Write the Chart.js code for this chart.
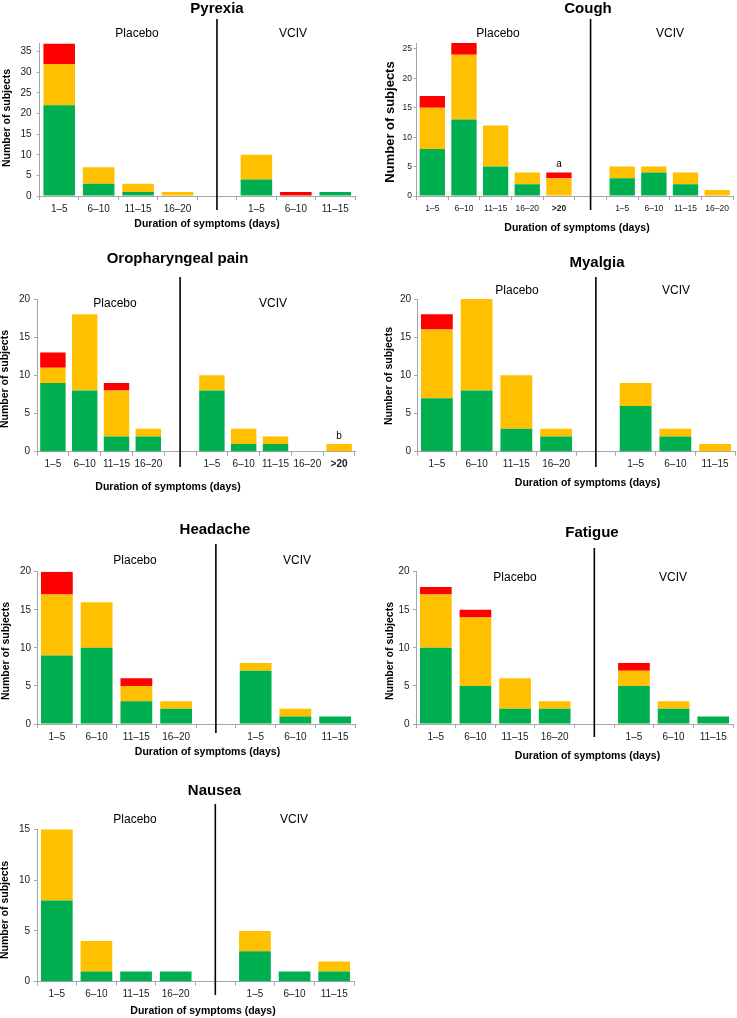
<!DOCTYPE html>
<html>
<head>
<meta charset="utf-8">
<script src="https://cdn.jsdelivr.net/npm/chart.js@4.4.1/dist/chart.umd.min.js"></script>
<style>
  body { margin: 0; background: #fff; }
  #page { position: relative; width: 737px; height: 1018px; overflow: hidden; }
  #page canvas { position: absolute; }
</style>
</head>
<body>
<div id="page"></div>
<script>
// ---- data (number of subjects per duration band; '' = gap between Placebo and VCIV) ----
const pyrexiaLabels = ['1–5', '6–10', '11–15', '16–20', '', '1–5', '6–10', '11–15'];
const pyrexiaMild = [22, 3, 1, 0, null, 4, 0, 1];
const pyrexiaModerate = [10, 4, 2, 1, null, 6, 0, 0];
const pyrexiaSevere = [5, 0, 0, 0, null, 0, 1, 0];

const coughLabels = ['1–5', '6–10', '11–15', '16–20', '>20', '', '1–5', '6–10', '11–15', '16–20'];
const coughMild = [8, 13, 5, 2, 0, null, 3, 4, 2, 0];
const coughModerate = [7, 11, 7, 2, 3, null, 2, 1, 2, 1];
const coughSevere = [2, 2, 0, 0, 1, null, 0, 0, 0, 0];

const oroLabels = ['1–5', '6–10', '11–15', '16–20', '', '1–5', '6–10', '11–15', '16–20', '>20'];
const oroMild = [9, 8, 2, 2, null, 8, 1, 1, 0, 0];
const oroModerate = [2, 10, 6, 1, null, 2, 2, 1, 0, 1];
const oroSevere = [2, 0, 1, 0, null, 0, 0, 0, 0, 0];

const myalgiaLabels = ['1–5', '6–10', '11–15', '16–20', '', '1–5', '6–10', '11–15'];
const myalgiaMild = [7, 8, 3, 2, null, 6, 2, 0];
const myalgiaModerate = [9, 12, 7, 1, null, 3, 1, 1];
const myalgiaSevere = [2, 0, 0, 0, null, 0, 0, 0];

const headacheLabels = ['1–5', '6–10', '11–15', '16–20', '', '1–5', '6–10', '11–15'];
const headacheMild = [9, 10, 3, 2, null, 7, 1, 1];
const headacheModerate = [8, 6, 2, 1, null, 1, 1, 0];
const headacheSevere = [3, 0, 1, 0, null, 0, 0, 0];

const fatigueLabels = ['1–5', '6–10', '11–15', '16–20', '', '1–5', '6–10', '11–15'];
const fatigueMild = [10, 5, 2, 2, null, 5, 2, 1];
const fatigueModerate = [7, 9, 4, 1, null, 2, 1, 0];
const fatigueSevere = [1, 1, 0, 0, null, 1, 0, 0];

const nauseaLabels = ['1–5', '6–10', '11–15', '16–20', '', '1–5', '6–10', '11–15'];
const nauseaMild = [8, 1, 1, 1, null, 3, 1, 1];
const nauseaModerate = [7, 3, 0, 0, null, 2, 0, 1];
const nauseaSevere = [0, 0, 0, 0, null, 0, 0, 0];

const GREEN = '#00B050', YELLOW = '#FFC000', RED = '#FF0000';
const AXIS = '#a6a6a6';
const FONT = '"Liberation Sans", Arial, sans-serif';
Chart.defaults.font.family = FONT;
Chart.defaults.color = '#1a1a1a';

const Y_W = 30, X_H = 20;

// layout in page pixels
const panels = [
  { title: 'Pyrexia', labels: pyrexiaLabels, mild: pyrexiaMild, mod: pyrexiaModerate, sev: pyrexiaSevere,
    box: [0, 0, 368, 235], plot: [39.5, 355, 43.5, 196], yMax: 37,
    titleAt: [217, 9], placebo: [137, 34], vciv: [293, 34], div: [19, 210],
    xTitle: [207, 224], yTitle: [7, 118], yTitleSize: 10.5, tickSize: 10, yPad: 5 },
  { title: 'Cough', labels: coughLabels, mild: coughMild, mod: coughModerate, sev: coughSevere,
    box: [368, 0, 369, 235], plot: [416.5, 733, 43.1, 196], yMax: 26,
    titleAt: [588, 9], placebo: [498, 34], vciv: [670, 34], div: [19, 210],
    xTitle: [577, 228], yTitle: [390.5, 122], yTitleSize: 13, tickSize: 8.5, yPad: 1.5,
    note: { index: 4, text: 'a' } },
  { title: 'Oropharyngeal pain', labels: oroLabels, mild: oroMild, mod: oroModerate, sev: oroSevere,
    box: [0, 235, 368, 265], plot: [37, 355, 299, 451.7], yMax: 20,
    titleAt: [177.5, 259], placebo: [115, 304], vciv: [273, 304], div: [277, 467],
    xTitle: [168, 487], yTitle: [5.5, 379], yTitleSize: 10.5, tickSize: 10, yPad: 4,
    note: { index: 9, text: 'b' } },
  { title: 'Myalgia', labels: myalgiaLabels, mild: myalgiaMild, mod: myalgiaModerate, sev: myalgiaSevere,
    box: [368, 235, 369, 265], plot: [417, 735, 299, 451.7], yMax: 20,
    titleAt: [597, 263], placebo: [517, 291], vciv: [676, 291], div: [277, 467],
    xTitle: [587.5, 483], yTitle: [389, 376], yTitleSize: 10.5, tickSize: 10, yPad: 3 },
  { title: 'Headache', labels: headacheLabels, mild: headacheMild, mod: headacheModerate, sev: headacheSevere,
    box: [0, 500, 368, 265], plot: [37, 355, 571.7, 724], yMax: 20,
    titleAt: [215, 530], placebo: [135, 561], vciv: [297, 561], div: [544, 733],
    xTitle: [207.5, 752], yTitle: [6, 651], yTitleSize: 10.5, tickSize: 10, yPad: 3 },
  { title: 'Fatigue', labels: fatigueLabels, mild: fatigueMild, mod: fatigueModerate, sev: fatigueSevere,
    box: [368, 500, 369, 265], plot: [416, 733, 571.7, 724], yMax: 20,
    titleAt: [592, 533], placebo: [515, 578], vciv: [673, 578], div: [548, 737],
    xTitle: [587.5, 756], yTitle: [390, 651], yTitleSize: 10.5, tickSize: 10, yPad: 3.5 },
  { title: 'Nausea', labels: nauseaLabels, mild: nauseaMild, mod: nauseaModerate, sev: nauseaSevere,
    box: [0, 765, 368, 253], plot: [37, 354, 829.3, 981.7], yMax: 15,
    titleAt: [214.5, 791], placebo: [135, 820], vciv: [294, 820], div: [804, 995],
    xTitle: [203, 1011], yTitle: [5.5, 910], yTitleSize: 10.5, tickSize: 10, yPad: 4 }
];

// titles, group labels, divider, axis titles and footnote letters
const panelDecor = {
  id: 'panelDecor',
  afterDraw(chart, args, o) {
    const p = o.panel;
    const ox = p.box[0], oy = p.box[1];
    const ctx = chart.ctx;
    ctx.save();
    ctx.fillStyle = '#000';
    ctx.textAlign = 'center';
    ctx.textBaseline = 'middle';

    ctx.font = 'bold 15px ' + FONT;
    ctx.fillText(p.title, p.titleAt[0] - ox, p.titleAt[1] - oy);

    ctx.font = '12px ' + FONT;
    ctx.fillText('Placebo', p.placebo[0] - ox, p.placebo[1] - oy);
    ctx.fillText('VCIV', p.vciv[0] - ox, p.vciv[1] - oy);

    const xs = chart.scales.x, ys = chart.scales.y;
    const gx = xs.getPixelForValue(p.labels.indexOf(''));
    ctx.strokeStyle = '#000';
    ctx.lineWidth = 1.6;
    ctx.beginPath();
    ctx.moveTo(gx, p.div[0] - oy);
    ctx.lineTo(gx, p.div[1] - oy);
    ctx.stroke();

    ctx.font = 'bold 10.5px ' + FONT;
    ctx.fillText('Duration of symptoms (days)', p.xTitle[0] - ox, p.xTitle[1] - oy);

    if (p.note) {
      const i = p.note.index;
      const total = (p.mild[i] || 0) + (p.mod[i] || 0) + (p.sev[i] || 0);
      ctx.font = '10px ' + FONT;
      ctx.fillText(p.note.text, xs.getPixelForValue(i), ys.getPixelForValue(total) - 8);
    }

    ctx.translate(p.yTitle[0] - ox, p.yTitle[1] - oy);
    ctx.rotate(-Math.PI / 2);
    ctx.font = 'bold ' + p.yTitleSize + 'px ' + FONT;
    ctx.fillText('Number of subjects', 0, 0);
    ctx.restore();
  }
};

const page = document.getElementById('page');

panels.forEach(p => {
  const [bx, by, bw, bh] = p.box;
  const [x0, x1, top, bottom] = p.plot;
  const canvas = document.createElement('canvas');
  canvas.width = bw;
  canvas.height = bh;
  canvas.style.left = bx + 'px';
  canvas.style.top = by + 'px';
  canvas.style.width = bw + 'px';
  canvas.style.height = bh + 'px';
  page.appendChild(canvas);

  const tickLh = p.tickSize * 1.2;

  new Chart(canvas, {
    type: 'bar',
    data: {
      labels: p.labels,
      datasets: [
        { label: 'Mild', data: p.mild, backgroundColor: GREEN },
        { label: 'Moderate', data: p.mod, backgroundColor: YELLOW },
        { label: 'Severe', data: p.sev, backgroundColor: RED }
      ]
    },
    options: {
      responsive: false,
      animation: false,
      devicePixelRatio: 1,
      barPercentage: 0.8,
      categoryPercentage: 1,
      layout: {
        padding: {
          left: x0 - bx - Y_W,
          right: bx + bw - x1,
          top: top - by,
          bottom: by + bh - bottom - X_H
        }
      },
      plugins: {
        legend: { display: false },
        tooltip: { enabled: false },
        panelDecor: { panel: p }
      },
      scales: {
        x: {
          stacked: true,
          afterFit: s => { s.height = X_H; },
          border: { color: AXIS, width: 1 },
          grid: { offset: true, drawOnChartArea: false, drawTicks: true, tickLength: 4, color: AXIS },
          ticks: {
            autoSkip: false,
            maxRotation: 0,
            padding: 13 - 4 - tickLh / 2,
            font: c => ({ size: p.tickSize, weight: (c.tick && c.tick.label === '>20') ? 'bold' : 'normal' })
          }
        },
        y: {
          stacked: true,
          min: 0,
          max: p.yMax,
          afterFit: s => { s.width = Y_W; },
          // ticks every 5 only, the axis itself runs up to yMax
          afterBuildTicks: s => {
            const t = [];
            for (let v = 0; v <= p.yMax; v += 5) t.push({ value: v });
            s.ticks = t;
          },
          border: { color: AXIS, width: 1 },
          grid: { drawOnChartArea: false, drawTicks: true, tickLength: 3, color: AXIS },
          ticks: { stepSize: 5, padding: p.yPad, font: { size: p.tickSize } }
        }
      }
    },
    plugins: [panelDecor]
  });
});
</script>
</body>
</html>
